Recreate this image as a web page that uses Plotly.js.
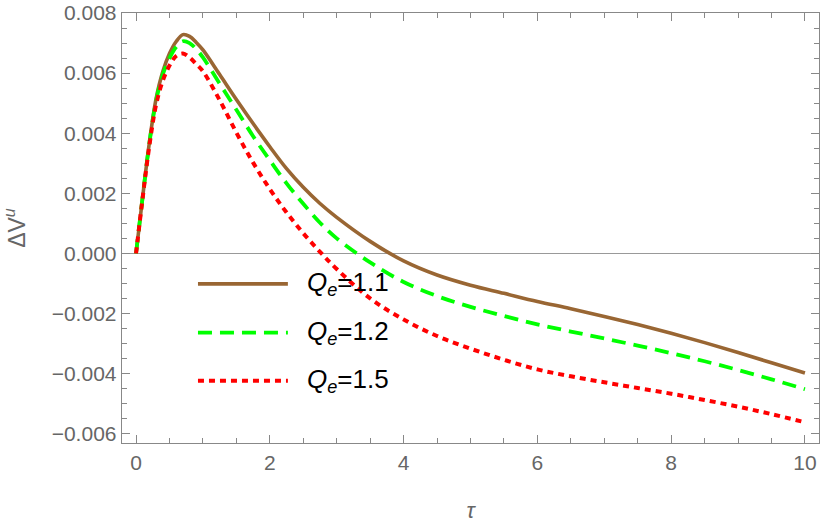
<!DOCTYPE html>
<html>
<head>
<meta charset="utf-8">
<script src="https://cdn.plot.ly/plotly-3.0.1.min.js"></script>
<style>
  html, body { margin: 0; padding: 0; background: #fff; }
  #plot { width: 830px; height: 526px; }
</style>
</head>
<body>
<div id="plot"></div>
<script>
// tau values shared by all three curves
const tau = [0, 0.1, 0.2, 0.3, 0.4, 0.5, 0.6, 0.7, 0.8, 0.9, 1.0,
    1.25, 1.5, 1.75, 2.0, 2.25, 2.5, 2.75, 3.0, 3.5, 4.0, 4.5,
    5.0, 5.5, 6.0, 6.5, 7.0, 7.5, 8.0, 8.5, 9.0, 9.5, 10];

// Delta V^u, in units of 1e-3
const dv11 = [0, 1.9, 3.7, 5.15, 6.05, 6.65, 7.05, 7.28, 7.22, 7.02, 6.77,
    5.95, 5.12, 4.32, 3.55, 2.82, 2.2, 1.66, 1.2, 0.4, -0.25, -0.72,
    -1.06, -1.33, -1.6, -1.84, -2.1, -2.37, -2.66, -2.97, -3.3, -3.64, -3.98];

const dv12 = [0, 1.9, 3.68, 5.08, 5.95, 6.5, 6.87, 7.06, 7.0, 6.8, 6.52,
    5.65, 4.78, 3.9, 3.1, 2.33, 1.65, 1.02, 0.5, -0.3, -0.95, -1.42,
    -1.78, -2.08, -2.36, -2.6, -2.83, -3.07, -3.32, -3.59, -3.88, -4.19, -4.52];

const dv15 = [0, 1.87, 3.6, 4.95, 5.75, 6.25, 6.57, 6.65, 6.52, 6.3, 6.06,
    5.1, 4.02, 3.02, 2.14, 1.36, 0.67, 0.05, -0.52, -1.5, -2.2, -2.75,
    -3.17, -3.54, -3.86, -4.09, -4.29, -4.48, -4.67, -4.88, -5.1, -5.35, -5.62];

const labels = ["1.1", "1.2", "1.5"];
const colors = ["#996633", "#00ff00", "#ff0000"];
const dashes = ["solid", "14px,8px", "6px,5px"];
const widths = [3.6, 3.8, 4];

const series = [dv11, dv12, dv15];

const traces = series.map((s, i) => ({
    x: tau,
    y: s.map(v => v / 1000),
    mode: "lines",
    line: {
        color: colors[i],
        width: widths[i],
        dash: dashes[i],
        shape: "spline",
        smoothing: 1
    },
    name: "Qe=" + labels[i],
    showlegend: false,
    hoverinfo: "skip"
}));

// hand-made legend (long sample lines like the original)
const legendRows = [0.370, 0.2565, 0.145];
const shapes = legendRows.map((yy, i) => ({
    type: "line",
    xref: "paper", yref: "paper",
    x0: 0.109, x1: 0.238, y0: yy, y1: yy,
    line: {color: colors[i], width: widths[i], dash: dashes[i]}
}));
const annotations = legendRows.map((yy, i) => ({
    xref: "paper", yref: "paper",
    x: 0.262, y: yy,
    xanchor: "left", yanchor: "middle",
    showarrow: false,
    text: "<i>Q</i><sub><i>e</i></sub>=" + labels[i],
    font: {size: 26, color: "#000", family: "Liberation Sans, Arial, sans-serif"}
}));

const axisCommon = {
    showgrid: false,
    showline: true,
    linecolor: "#888",
    linewidth: 1.3,
    mirror: "allticks",
    ticks: "inside",
    ticklen: 8,
    tickwidth: 1,
    tickcolor: "#888",
    tickfont: {size: 21, color: "#666", family: "Liberation Sans, Arial, sans-serif"}
};

const layout = {
    width: 830,
    height: 526,
    margin: {l: 122, r: 11, t: 13, b: 83},
    paper_bgcolor: "#fff",
    plot_bgcolor: "#fff",
    xaxis: Object.assign({}, axisCommon, {
        range: [-0.21, 10.21],
        tick0: 0,
        dtick: 2,
        zeroline: false,
        minor: {dtick: 0.5, ticklen: 5, ticks: "inside", tickcolor: "#888"},
        title: {
            text: "<i>τ</i>",
            font: {size: 22, color: "#666", family: "Liberation Sans, Arial, sans-serif"},
            standoff: 30
        }
    }),
    yaxis: Object.assign({}, axisCommon, {
        range: [-0.00631, 0.008],
        tick0: 0,
        dtick: 0.002,
        tickformat: ".3f",
        zeroline: true,
        zerolinecolor: "#999",
        zerolinewidth: 1,
        minor: {dtick: 0.0005, ticklen: 5, ticks: "inside", tickcolor: "#888"},
        title: {
            text: "ΔV<sup><i>u</i></sup>",
            font: {size: 23, color: "#666", family: "Liberation Sans, Arial, sans-serif"},
            standoff: 29
        }
    }),
    shapes: shapes,
    annotations: annotations
};

Plotly.newPlot("plot", traces, layout, {displayModeBar: false, staticPlot: true});
</script>
</body>
</html>
